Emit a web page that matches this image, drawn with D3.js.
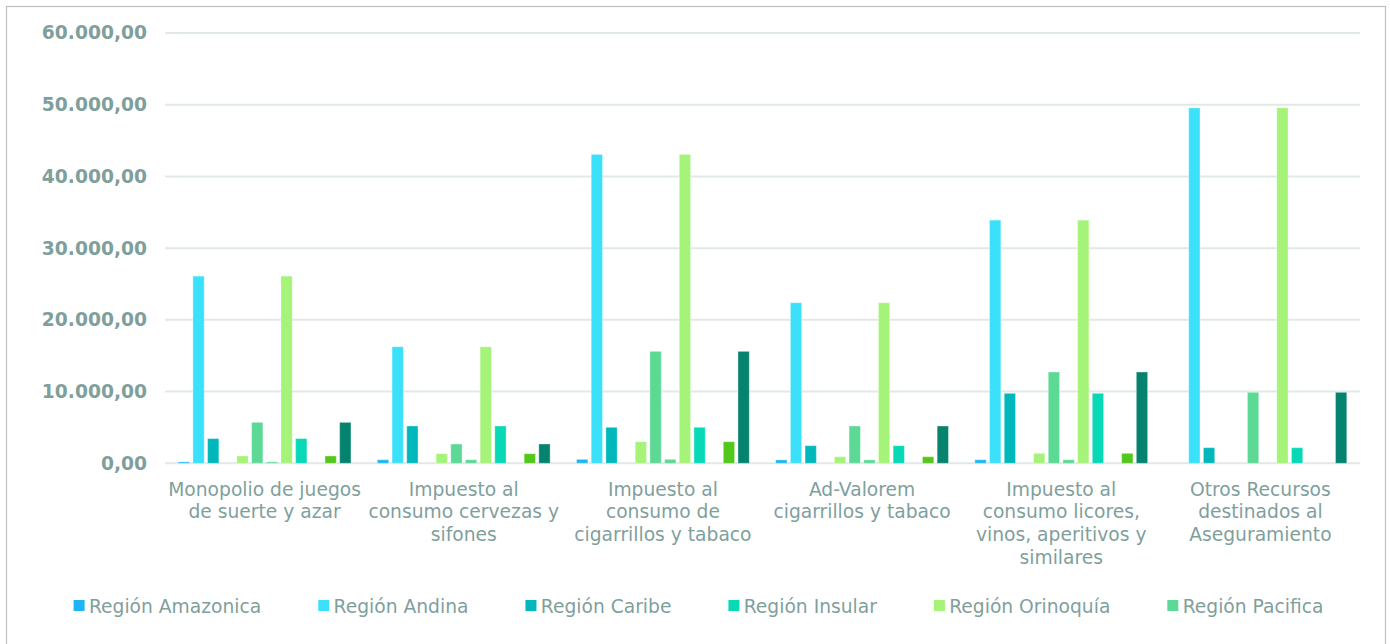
<!DOCTYPE html>
<html>
<head>
<meta charset="utf-8">
<script src="https://cdn.jsdelivr.net/npm/d3@7"></script>
<style>
  html, body { margin: 0; padding: 0; background: #fff; }
  svg { display: block; font-family: "DejaVu Sans", Verdana, sans-serif; }
</style>
</head>
<body>
<svg id="chart" width="1390" height="644"></svg>
<script>
// categories (wrapped as they appear under the axis)
const categories = [
  "Monopolio de juegos de suerte y azar",
  "Impuesto al consumo cervezas y sifones",
  "Impuesto al consumo de cigarrillos y tabaco",
  "Ad-Valorem cigarrillos y tabaco",
  "Impuesto al consumo licores, vinos, aperitivos y similares",
  "Otros Recursos destinados al Aseguramiento"
];
const categoryLines = [
  ["Monopolio de juegos", "de suerte y azar"],
  ["Impuesto al", "consumo cervezas y", "sifones"],
  ["Impuesto al", "consumo de", "cigarrillos y tabaco"],
  ["Ad-Valorem", "cigarrillos y tabaco"],
  ["Impuesto al", "consumo licores,", "vinos, aperitivos y", "similares"],
  ["Otros Recursos", "destinados al", "Aseguramiento"]
];

// 12 series drawn, only the first 6 are visible in the legend
const seriesNames = [
  "Región Amazonica", "Región Andina", "Región Caribe",
  "Región Insular", "Región Orinoquía", "Región Pacifica",
  "Región Amazonica 2", "Región Andina 2", "Región Caribe 2",
  "Región Insular 2", "Región Orinoquía 2", "Región Pacifica 2"
];
const seriesColors = [
  "#1db6f5", "#3be0fa", "#00b8bc", "#07d9b6", "#a5f378", "#5bd995",
  "#5bd995", "#a5f378", "#07d9b6", "#07d9b6", "#52c81a", "#05836f"
];
const legendCount = 6;

// values per series, one per category
const amazonica  = [200, 500, 550, 480, 500, 0];
const andina     = [26100, 16250, 43070, 22390, 33910, 49560];
const caribe     = [3450, 5200, 5020, 2460, 9760, 2180];
const insular    = [0, 0, 0, 0, 0, 0];
const orinoquia  = [1020, 1340, 3010, 920, 1390, 0];
const pacifica   = [5710, 2690, 15610, 5200, 12730, 9900];
const amazonica2 = [200, 500, 550, 480, 500, 0];
const andina2    = [26100, 16250, 43070, 22390, 33910, 49560];
const caribe2    = [3450, 5200, 5020, 2460, 9760, 2180];
const insular2   = [0, 0, 0, 0, 0, 0];
const orinoquia2 = [1020, 1340, 3010, 920, 1390, 0];
const pacifica2  = [5710, 2690, 15610, 5200, 12730, 9900];
const seriesValues = [amazonica, andina, caribe, insular, orinoquia, pacifica,
  amazonica2, andina2, caribe2, insular2, orinoquia2, pacifica2];

const yTicks = [0, 10000, 20000, 30000, 40000, 50000, 60000];

const textColor = "#7f9f9d";
const svg = d3.select("#chart");

// outer frame
svg.append("rect")
  .attr("x", 6.5).attr("y", 6.5)
  .attr("width", 1379).attr("height", 700)
  .attr("fill", "#fff")
  .attr("stroke", "#bfbfbf")
  .attr("stroke-width", 1.2);

const plot = { left: 165, right: 1360, top: 33, bottom: 463.3 };

const x0 = d3.scaleBand()
  .domain(categories)
  .range([plot.left, plot.right])
  .padding(0);

const x1 = d3.scaleBand()
  .domain(seriesNames)
  .range([0, x0.bandwidth()])
  .paddingInner(0.23)
  .paddingOuter(0.9);

const y = d3.scaleLinear()
  .domain([0, 60000])
  .range([plot.bottom, plot.top]);

const locale = d3.formatLocale({ decimal: ",", thousands: ".", grouping: [3], currency: ["$", ""] });
const fmt = locale.format(",.2f");

// gridlines
svg.append("g")
  .selectAll("line")
  .data(yTicks)
  .enter()
  .append("line")
  .attr("x1", plot.left)
  .attr("x2", plot.right)
  .attr("y1", d => y(d))
  .attr("y2", d => y(d))
  .attr("stroke", "#e1e9e8")
  .attr("stroke-width", 2);

// y axis labels
const yAxis = svg.append("g")
  .attr("transform", "translate(" + plot.left + ",0)")
  .call(d3.axisLeft(y).tickValues(yTicks).tickFormat(fmt).tickSize(0).tickPadding(18));
yAxis.select(".domain").remove();
yAxis.selectAll("text")
  .attr("fill", textColor)
  .attr("font-size", "18.7px")
  .attr("font-weight", "bold")
  .attr("font-family", "'DejaVu Sans', Verdana, sans-serif");

// bars
const groups = svg.append("g")
  .selectAll("g")
  .data(categories)
  .enter()
  .append("g")
  .attr("transform", d => "translate(" + x0(d) + ",0)");

groups.selectAll("rect")
  .data((d, i) => seriesNames.map((s, k) => ({ s: s, k: k, v: seriesValues[k][i] })))
  .enter()
  .filter(d => d.v > 0)
  .append("rect")
  .attr("x", d => x1(d.s))
  .attr("y", d => y(d.v))
  .attr("width", x1.bandwidth())
  .attr("height", d => y(0) - y(d.v))
  .attr("fill", d => seriesColors[d.k])
  .attr("stroke", "#ffffff")
  .attr("stroke-opacity", 0.35)
  .attr("stroke-width", 1);

// category labels
const catLabels = svg.append("g")
  .selectAll("text")
  .data(categories)
  .enter()
  .append("text")
  .attr("x", d => x0(d) + x0.bandwidth() / 2)
  .attr("y", 495.5)
  .attr("text-anchor", "middle")
  .attr("fill", textColor)
  .attr("font-size", "18.7px");

catLabels.selectAll("tspan")
  .data((d, i) => categoryLines[i])
  .enter()
  .append("tspan")
  .attr("x", function() { return this.parentNode.getAttribute("x"); })
  .attr("dy", (d, i) => i === 0 ? 0 : 22.7)
  .text(d => d);

// legend
const legendGap = 57;
const legend = svg.append("g");
let lx = 0;
seriesNames.slice(0, legendCount).forEach((name, k) => {
  const g = legend.append("g");
  g.append("rect")
    .attr("x", 0).attr("y", -5.5)
    .attr("width", 11).attr("height", 11)
    .attr("fill", seriesColors[k]);
  const t = g.append("text")
    .attr("x", 15.3).attr("y", 7.2)
    .attr("fill", textColor)
    .attr("font-size", "18.7px")
    .text(name);
  const w = 15.3 + t.node().getComputedTextLength();
  g.attr("transform", "translate(" + lx + ",0)");
  lx += w + legendGap;
});
const legendWidth = lx - legendGap;
legend.attr("transform", "translate(" + (698.5 - legendWidth / 2) + ",605.5)");
</script>
</body>
</html>
